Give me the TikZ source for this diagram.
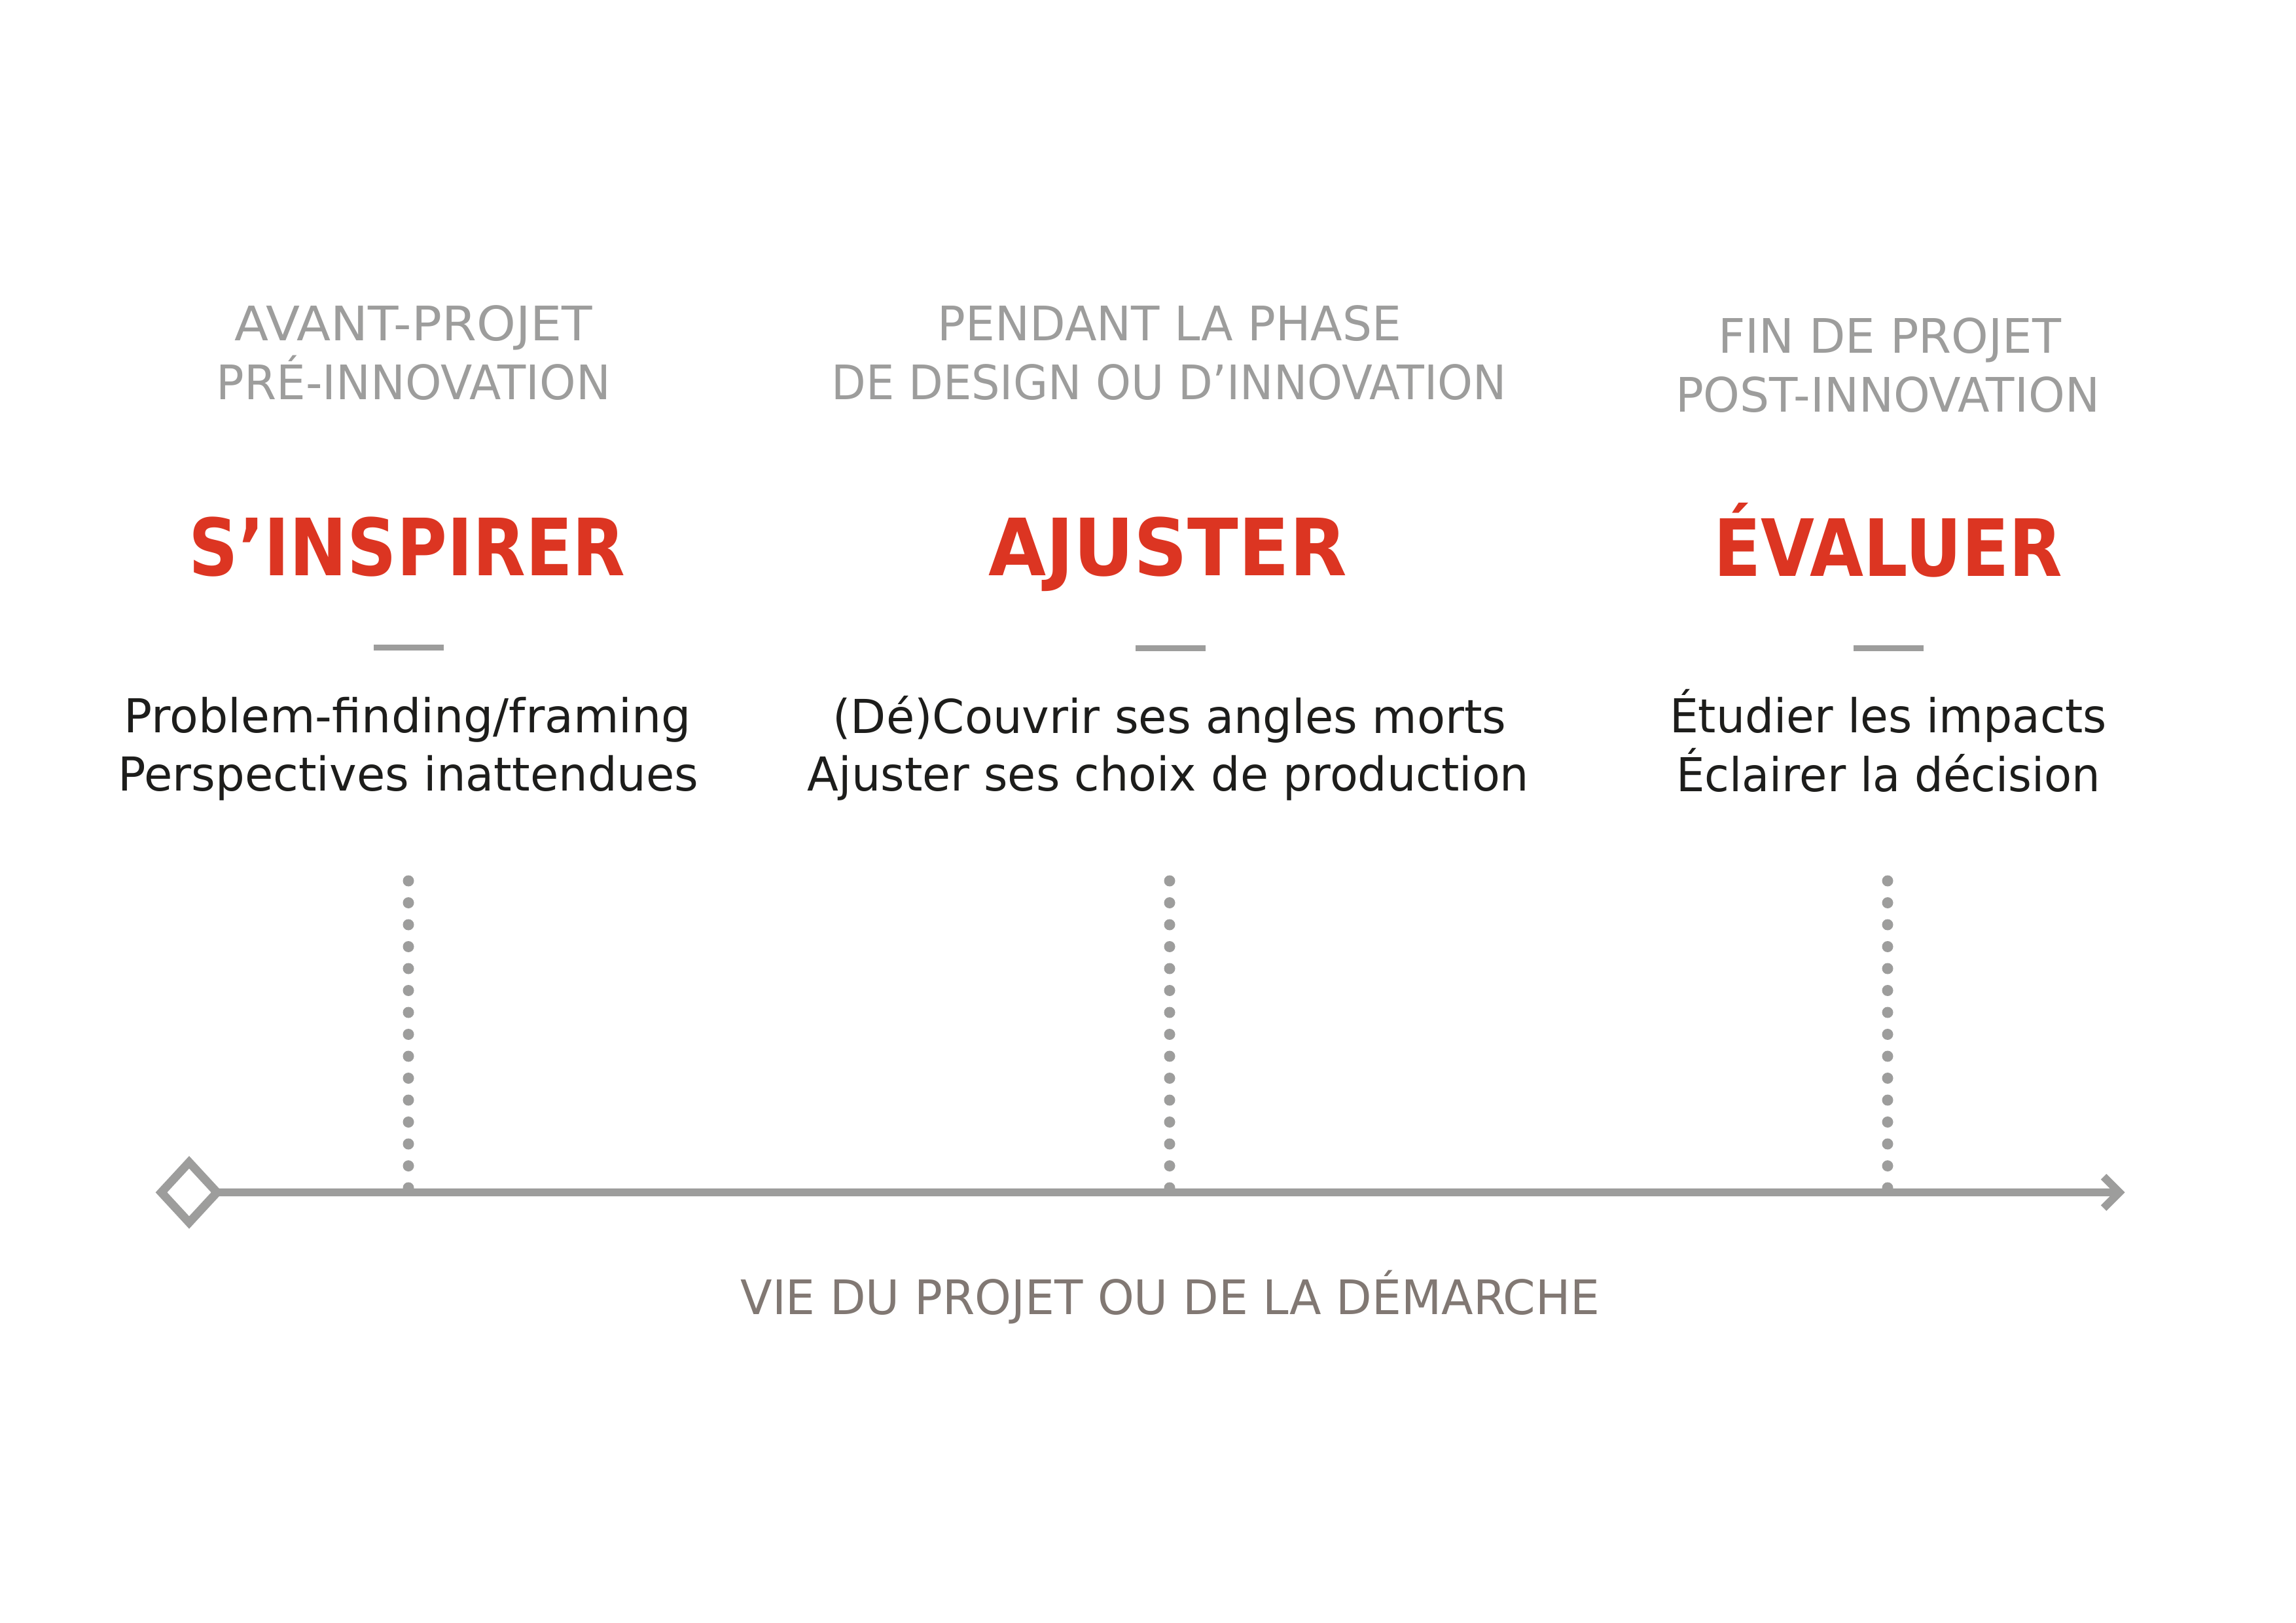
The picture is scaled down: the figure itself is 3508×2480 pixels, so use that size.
\documentclass[tikz,border=0pt]{standalone}
\usepackage{fontspec}
\setmainfont{DejaVu Sans}
\usetikzlibrary{shapes.geometric}
\newlength\pxu
\setlength\pxu{0.084664mm}
\definecolor{lgray}{HTML}{9D9D9C}
\definecolor{tred}{HTML}{DC3522}
\definecolor{lbrown}{HTML}{817873}
\definecolor{tblack}{HTML}{1D1D1B}
\newcommand\fitw[2]{\resizebox{#1\pxu}{\height}{#2}}
\begin{document}
\begin{tikzpicture}[x=\pxu, y=-\pxu,
  head/.style={anchor=base, inner sep=0pt, text=lgray, font=\fontsize{17.5}{21}\selectfont},
  ttl/.style={anchor=base, inner sep=0pt, text=tred, font=\bfseries\fontsize{29.1}{35}\selectfont},
  bodytxt/.style={anchor=base, inner sep=0pt, text=tblack, font=\fontsize{17.2}{21}\selectfont},
  foot/.style={anchor=base, inner sep=0pt, text=lbrown, font=\fontsize{17.5}{21}\selectfont},
  sepbar/.style={fill=lgray, inner sep=0pt, minimum width=107\pxu, minimum height=9\pxu},
  axisline/.style={draw=lgray, line width=12\pxu},
  dotline/.style={draw=lgray, line width=17\pxu, line cap=round, dash pattern=on 0pt off 33.5\pxu},
]
\useasboundingbox[fill=white] (0,0) rectangle (3508,2480);

% left column
\node[head] (h1a) at (632,521) {\fitw{546}{AVANT-PROJET}};
\node[head] (h1b) at (632,611) {\fitw{602}{PRÉ-INNOVATION}};
\node[ttl] (t1) at (622,880) {\fitw{667}{S’INSPIRER}};
\node[sepbar] (s1) at (624,990) {};
\node[bodytxt] (b1a) at (623,1120) {\fitw{866}{Problem-finding/framing}};
\node[bodytxt] (b1b) at (624,1209) {\fitw{887}{Perspectives inattendues}};

% middle column
\node[head] (h2a) at (1787,521) {\fitw{708}{PENDANT LA PHASE}};
\node[head] (h2b) at (1786,611) {\fitw{1031}{DE DESIGN OU D’INNOVATION}};
\node[ttl] (t2) at (1784,880) {\fitw{548}{AJUSTER}};
\node[sepbar] (s2) at (1788,991) {};
\node[bodytxt] (b2a) at (1787,1120) {\fitw{1029}{(Dé)Couvrir ses angles morts}};
\node[bodytxt] (b2b) at (1785,1209) {\fitw{1102}{Ajuster ses choix de production}};

% right column
\node[head] (h3a) at (2887,540) {\fitw{524}{FIN DE PROJET}};
\node[head] (h3b) at (2884,630) {\fitw{648}{POST-INNOVATION}};
\node[ttl] (t3) at (2885,881) {\fitw{533}{ÉVALUER}};
\node[sepbar] (s3) at (2885,991) {};
\node[bodytxt] (b3a) at (2885,1120) {\fitw{668}{Étudier les impacts}};
\node[bodytxt] (b3b) at (2885,1210) {\fitw{648}{Éclairer la décision}};

% dotted markers
\coordinate (d1t) at (624,1346);  \coordinate (d1b) at (624,1816);
\coordinate (d2t) at (1787,1346); \coordinate (d2b) at (1787,1816);
\coordinate (d3t) at (2884,1346); \coordinate (d3b) at (2884,1816);
\draw[dotline] (d1t) -- (d1b);
\draw[dotline] (d2t) -- (d2b);
\draw[dotline] (d3t) -- (d3b);

% axis
\node[shape=diamond, draw=lgray, line width=13\pxu, miter limit=10, inner sep=0pt, outer sep=0pt,
      minimum width=85\pxu, minimum height=92\pxu] (start) at (289,1822) {};
\coordinate (tip) at (3238,1822);
\coordinate (barbu) at (3214,1798);
\coordinate (barbd) at (3214,1846);
\draw[axisline] (start.east) -- (tip);
\draw[axisline, miter limit=10] (barbu) -- (tip) -- (barbd);

% footer
\node[foot] (lab) at (1788,2008) {\fitw{1313}{VIE DU PROJET OU DE LA DÉMARCHE}};
\end{tikzpicture}
\end{document}
